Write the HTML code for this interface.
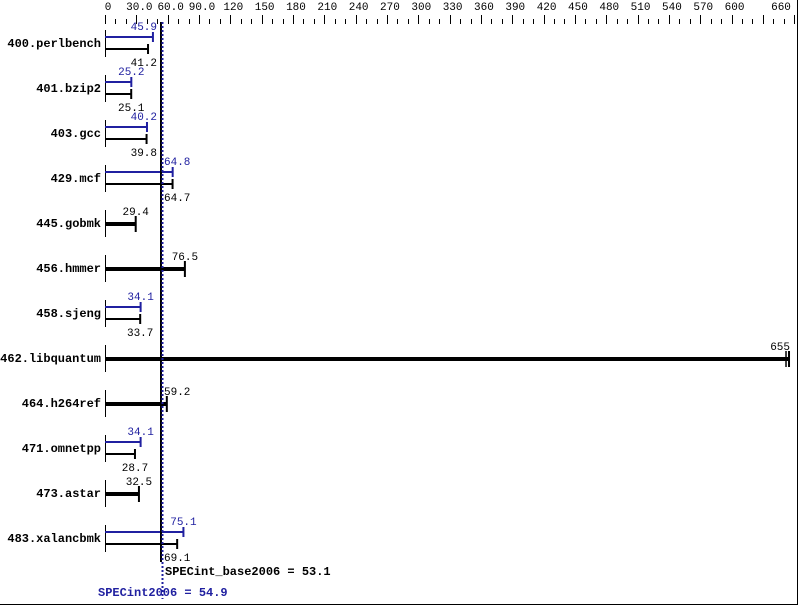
<!DOCTYPE html>
<html><head><meta charset="utf-8"><style>
body{margin:0;background:#fff}
svg{display:block}
text{font-family:"Liberation Mono",monospace;font-size:11px}
.n{font-weight:bold;font-size:12px}
</style></head><body>
<svg id="s" width="799" height="606" xmlns="http://www.w3.org/2000/svg"></svg>
<script>
var s=document.getElementById('s'),h='';
var X=function(v){return 105+v*1.0443;};
h+='<line x1="797.5" y1="0" x2="797.5" y2="604" stroke="#000"/><line x1="0" y1="604.5" x2="798" y2="604.5" stroke="#000"/>';
for(var v=0;v<=660;v+=10){var x=Math.round(X(v))+0.5;var maj=v%30==0;h+='<line x1="'+x+'" x2="'+x+'" y1="'+(maj?15:19)+'" y2="24" stroke="#000"/>';}
var labs=[0,30,60,90,120,150,180,210,240,270,300,330,360,390,420,450,480,510,540,570,600];
labs.forEach(function(v){var t=v<100?(v==0?'0':v.toFixed(1)):''+v;h+='<text x="'+(X(v)+3)+'" y="10" text-anchor="middle">'+t+'</text>';});
h+='<text x="781" y="10" text-anchor="middle">660</text>';
var d=[['400.perlbench',45.9,41.2],['401.bzip2',25.2,25.1],['403.gcc',40.2,39.8],['429.mcf',64.8,64.7],['445.gobmk',29.4],['456.hmmer',76.5],['458.sjeng',34.1,33.7],['462.libquantum',655],['464.h264ref',59.2],['471.omnetpp',34.1,28.7],['473.astar',32.5],['483.xalancbmk',75.1,69.1]];
function lab(v,x,y,c){var t=''+v;var w=t.length*6.6;var l=x-w/2;if(v==655){l=790-w;}else if(x>158&&l<164)l=164;else if(x<=158&&l+w>157)l=157-w;h+='<text x="'+l+'" y="'+y+'" fill="'+c+'">'+t+'</text>';}
d.forEach(function(r,i){var y=43+45*i;h+='<text class="n" x="101" y="'+(y+4)+'" text-anchor="end">'+r[0]+'</text>';
h+='<line x1="105.5" x2="105.5" y1="'+(y-13)+'" y2="'+(y+14)+'" stroke="#000"/>';
if(r.length==3){var e1=X(r[1]),e2=X(r[2]);
h+='<rect x="105" y="'+(y-7)+'" width="'+(e1-105)+'" height="2" fill="#2020a0"/><line x1="'+e1+'" x2="'+e1+'" y1="'+(y-11)+'" y2="'+(y-1)+'" stroke="#2020a0" stroke-width="2"/>';
h+='<rect x="105" y="'+(y+5)+'" width="'+(e2-105)+'" height="2" fill="#000"/><line x1="'+e2+'" x2="'+e2+'" y1="'+(y+1)+'" y2="'+(y+11)+'" stroke="#000" stroke-width="2"/>';
lab(r[1],e1,y-13,'#2020a0');lab(r[2],e2,y+23,'#000');}
else{var e=X(r[1]);h+='<rect x="105" y="'+(y-1)+'" width="'+(e-105)+'" height="4" fill="#000"/><line x1="'+e+'" x2="'+e+'" y1="'+(y-7)+'" y2="'+(y+9)+'" stroke="#000" stroke-width="2"/>';
if(r[1]==655)h+='<line x1="'+(e-3)+'" x2="'+(e-3)+'" y1="'+(y-7)+'" y2="'+(y+9)+'" stroke="#000" stroke-width="1.5"/>';
lab(r[1],e,y-8,'#000');}
});
h+='<line x1="161" x2="161" y1="22" y2="562" stroke="#000" stroke-width="2"/>';
h+='<line x1="162.5" x2="162.5" y1="22" y2="599" stroke="#2020a0" stroke-width="2" stroke-dasharray="2,2"/>';
h+='<text class="n" x="165" y="575">SPECint_base2006 = 53.1</text>';
h+='<text class="n" x="98" y="596" fill="#2020a0">SPECint2006 = 54.9</text>';
s.innerHTML=h;
</script>
</body></html>
